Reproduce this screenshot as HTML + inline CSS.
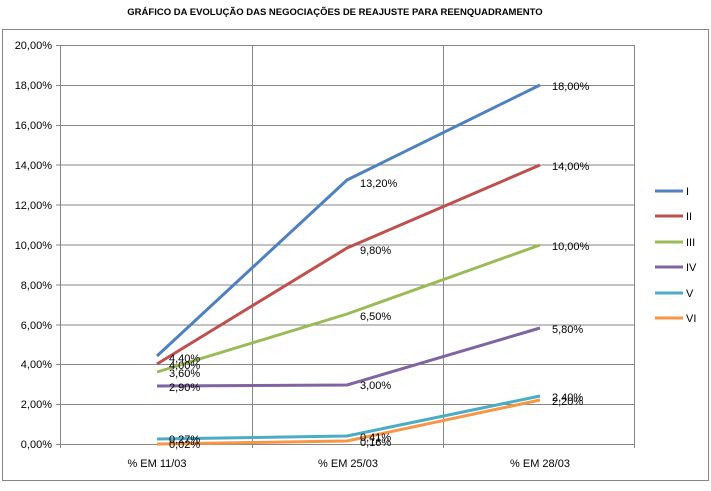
<!DOCTYPE html>
<html><head><meta charset="utf-8"><style>
html,body{margin:0;padding:0;background:#fff}
svg{display:block}
text{font-family:"Liberation Sans",sans-serif;fill:#000}
</style></head><body>
<svg width="711" height="491" viewBox="0 0 711 491" xmlns="http://www.w3.org/2000/svg">
<rect x="0" y="0" width="711" height="491" fill="#fff"/>
<text x="335" y="15" font-size="9.5" font-weight="bold" text-anchor="middle">GRÁFICO DA EVOLUÇÃO DAS NEGOCIAÇÕES DE REAJUSTE PARA REENQUADRAMENTO</text>
<rect x="2.5" y="29.5" width="706" height="451" fill="none" stroke="#868686" stroke-width="1"/>
<g stroke="#868686" stroke-width="1" fill="none">
<line x1="60" y1="45.5" x2="635" y2="45.5"/>
<line x1="60" y1="85.5" x2="635" y2="85.5"/>
<line x1="60" y1="125.5" x2="635" y2="125.5"/>
<line x1="60" y1="165" x2="635" y2="165"/>
<line x1="60" y1="205" x2="635" y2="205"/>
<line x1="60" y1="245" x2="635" y2="245"/>
<line x1="60" y1="285" x2="635" y2="285"/>
<line x1="60" y1="325" x2="635" y2="325"/>
<line x1="60" y1="364.5" x2="635" y2="364.5"/>
<line x1="60" y1="404.5" x2="635" y2="404.5"/>
<line x1="56" y1="444.5" x2="635" y2="444.5"/>
<line x1="60.5" y1="45" x2="60.5" y2="448"/>
<line x1="252.5" y1="45" x2="252.5" y2="448"/>
<line x1="443.5" y1="45" x2="443.5" y2="448"/>
<line x1="634.5" y1="45" x2="634.5" y2="448"/>
<line x1="56" y1="45.5" x2="60" y2="45.5"/><line x1="56" y1="85.5" x2="60" y2="85.5"/><line x1="56" y1="125.5" x2="60" y2="125.5"/><line x1="56" y1="165" x2="60" y2="165"/><line x1="56" y1="205" x2="60" y2="205"/><line x1="56" y1="245" x2="60" y2="245"/><line x1="56" y1="285" x2="60" y2="285"/><line x1="56" y1="325" x2="60" y2="325"/><line x1="56" y1="364.5" x2="60" y2="364.5"/><line x1="56" y1="404.5" x2="60" y2="404.5"/>
</g>
<g font-size="11" text-anchor="end">
<text x="52" y="49">20,00%</text><text x="52" y="89">18,00%</text><text x="52" y="129">16,00%</text><text x="52" y="169">14,00%</text><text x="52" y="209">12,00%</text><text x="52" y="249">10,00%</text><text x="52" y="289">8,00%</text><text x="52" y="329">6,00%</text><text x="52" y="368">4,00%</text><text x="52" y="408">2,00%</text><text x="52" y="448">0,00%</text>
</g>
<g font-size="11" text-anchor="middle">
<text x="157" y="467">% EM 11/03</text><text x="348" y="467">% EM 25/03</text><text x="540" y="467">% EM 28/03</text>
</g>
<g fill="none" stroke-width="3" stroke-linejoin="round">
<polyline stroke="#4F81BD" points="157,356 347,180 540,85"/>
<polyline stroke="#C0504D" points="157,364 347,248 540,165"/>
<polyline stroke="#9BBB59" points="157,372 347,314 540,245"/>
<polyline stroke="#8064A2" points="157,386 347,385 540,328"/>
<polyline stroke="#4BACC6" points="157,439 347,436 540,396"/>
<polyline stroke="#F79646" points="157,444 347,441 540,400"/>
</g>
<g font-size="11">
<text x="169" y="362">4,40%</text><text x="169" y="369">4,00%</text><text x="169" y="377">3,60%</text><text x="169" y="391">2,90%</text><text x="169" y="443">0,27%</text><text x="169" y="448">0,02%</text>
<text x="360" y="187">13,20%</text><text x="360" y="254">9,80%</text><text x="360" y="320">6,50%</text><text x="360" y="389">3,00%</text><text x="360" y="441">0,41%</text><text x="360" y="446">0,16%</text>
<text x="552" y="90">18,00%</text><text x="552" y="170">14,00%</text><text x="552" y="250">10,00%</text><text x="552" y="333">5,80%</text><text x="552" y="401">2,40%</text><text x="552" y="405">2,20%</text>
</g>
<g stroke-width="3">
<line x1="655" y1="191" x2="683" y2="191" stroke="#4F81BD"/>
<line x1="655" y1="216" x2="683" y2="216" stroke="#C0504D"/>
<line x1="655" y1="242" x2="683" y2="242" stroke="#9BBB59"/>
<line x1="655" y1="267" x2="683" y2="267" stroke="#8064A2"/>
<line x1="655" y1="293" x2="683" y2="293" stroke="#4BACC6"/>
<line x1="655" y1="318" x2="683" y2="318" stroke="#F79646"/>
</g>
<g font-size="11">
<text x="686" y="195">I</text><text x="686" y="220">II</text><text x="686" y="246">III</text><text x="686" y="271">IV</text><text x="686" y="297">V</text><text x="686" y="322">VI</text>
</g>
</svg>
</body></html>
